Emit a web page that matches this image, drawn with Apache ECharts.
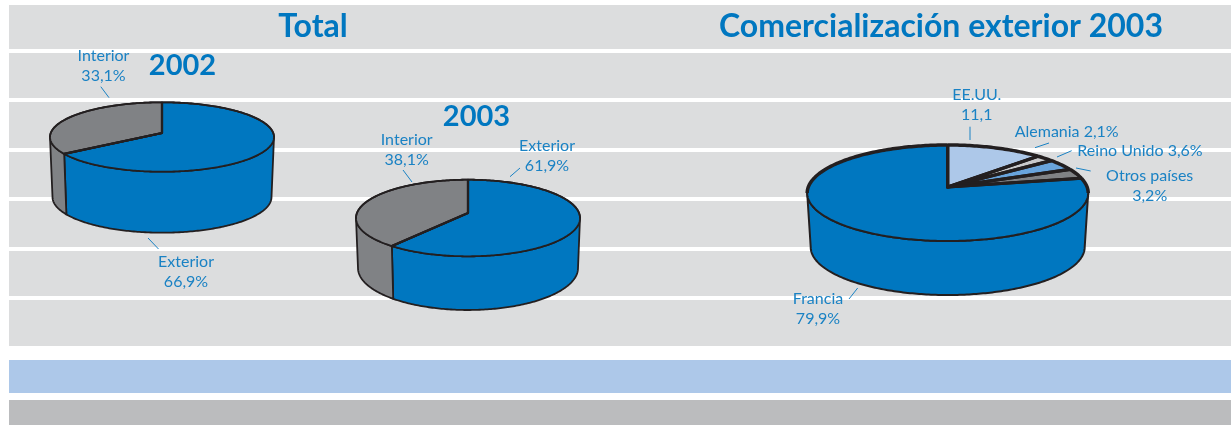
<!DOCTYPE html>
<html>
<head>
    <meta charset="utf-8">
    <title>Comercialización exterior 2003</title>
    <script src="https://cdn.jsdelivr.net/npm/echarts@6/dist/echarts.min.js"></script>
    <style>
        html, body { margin: 0; padding: 0; background: #fff; }
    </style>
</head>
<body>
    <div id="main" style="width: 1231px;height:425px;"></div>
    <script type="text/javascript">
        // values, in clockwise order from 12 o'clock
        var values2002 = [66.9, 33.1];
        var labels2002 = ['Exterior\n66,9%', 'Interior\n33,1%'];
        var values2003 = [61.9, 38.1];
        var labels2003 = ['Exterior\n61,9%', 'Interior\n38,1%'];
        var valuesExport = [11.1, 2.1, 3.6, 3.2, 79.9];
        var labelsExport = ['EE.UU.\n11,1', 'Alemania 2,1%', 'Reino Unido 3,6%', 'Otros países\n3,2%', 'Francia\n79,9%'];

        var BLUE = '#0077c0', GREY = '#808285', INK = '#231f20', TEXT = '#1a82c4';

        var pies = [{
            values: values2002, labels: labels2002,
            colors: [BLUE, GREY],
            cx: 162, cy: 137, rx: 112, ry: 34.7, apexDy: -4,
            bottomRx: 109.5, bottomCy: 197, bottomRy: 35.7,
            rimWidth: 1.8, upperWidth: 1.8, radialWidth: 2.2,
            labelPos: [[186, 272], [103.5, 66]],
            leaders: [[148, 238, 158.5, 249], [100.8, 86.7, 109, 97.7]]
        }, {
            values: values2003, labels: labels2003,
            colors: [BLUE, GREY],
            cx: 468, cy: 218, rx: 112, ry: 38.3, apexDy: -5,
            bottomRx: 110, bottomCy: 268, bottomRy: 42,
            rimWidth: 1.8, upperWidth: 1.8, radialWidth: 2.2,
            labelPos: [[547, 156], [406.7, 150]],
            leaders: [[520, 168, 510, 176.7], [403, 170, 412, 182]]
        }, {
            values: valuesExport, labels: labelsExport,
            colors: ['#adc8e9', '#c9cacc', '#69a4dc', GREY, BLUE],
            cx: 947.7, cy: 193, rx: 140.5, ry: 48, apexDy: -6,
            bottomRx: 137, bottomCy: 247, bottomRy: 48,
            rimWidth: 2, upperWidth: 3.5, radialWidth: 3.2,
            labelPos: [[976.7, 105], [1066.7, 132], [1140, 151.3], [1149.7, 186], [818, 309]],
            leaders: [[970, 126.7, 970, 140], [1049, 143, 1035, 147.7], [1071.7, 150.7, 1057, 157],
                [1076, 168, 1090.7, 171], [849, 299, 857.7, 288]]
        }];

        var bandTops = [5, 53, 102, 152, 201, 251, 300];
        var bandBottoms = [49, 98, 148, 197, 247, 296, 346];

        function rimPoint(cx, cy, rx, ry, deg) {
            var a = deg * Math.PI / 180;
            return [cx + rx * Math.sin(a), cy - ry * Math.cos(a)];
        }

        function arcPoints(cx, cy, rx, ry, from, to) {
            var pts = [], steps = Math.max(1, Math.ceil(Math.abs(to - from)));
            for (var i = 0; i <= steps; i++) {
                pts.push(rimPoint(cx, cy, rx, ry, from + (to - from) * i / steps));
            }
            return pts;
        }

        // one custom series per pie, angles come from the data values
        function pieSeries(pie) {
            var total = pie.values.reduce(function (s, v) { return s + v; }, 0);
            return {
                type: 'custom',
                coordinateSystem: 'none',
                silent: true,
                data: pie.values,
                renderItem: function (params, api) {
                    var i = params.dataIndex, before = 0;
                    for (var k = 0; k < i; k++) before += pie.values[k];
                    var a0 = before / total * 360;
                    var a1 = a0 + api.value(0) / total * 360;
                    var fill = pie.colors[i];
                    var apex = [pie.cx, pie.cy + pie.apexDy];
                    var kids = [];

                    // side wall, only the part on the front half of the rim
                    var s0 = Math.max(a0, 90), s1 = Math.min(a1, 270);
                    if (s1 > s0) {
                        var wall = arcPoints(pie.cx, pie.cy, pie.rx, pie.ry, s0, s1)
                            .concat(arcPoints(pie.cx, pie.bottomCy, pie.bottomRx, pie.bottomRy, s1, s0));
                        kids.push({
                            type: 'polygon', z2: 1,
                            shape: { points: wall },
                            style: { fill: fill, stroke: INK, lineWidth: pie.rimWidth, lineJoin: 'round' }
                        });
                    }

                    // top face
                    var rim = arcPoints(pie.cx, pie.cy, pie.rx, pie.ry, a0, a1);
                    kids.push({
                        type: 'polygon', z2: 2,
                        shape: { points: [apex].concat(rim) },
                        style: { fill: fill, stroke: INK, lineWidth: pie.rimWidth, lineJoin: 'round' }
                    });
                    // heavier back rim
                    if (a0 < 90) {
                        kids.push({
                            type: 'polyline', z2: 3,
                            shape: { points: arcPoints(pie.cx, pie.cy, pie.rx, pie.ry, a0, Math.min(a1, 90)) },
                            style: { fill: null, stroke: INK, lineWidth: pie.upperWidth }
                        });
                    }
                    if (a1 > 270) {
                        kids.push({
                            type: 'polyline', z2: 3,
                            shape: { points: arcPoints(pie.cx, pie.cy, pie.rx, pie.ry, Math.max(a0, 270), a1) },
                            style: { fill: null, stroke: INK, lineWidth: pie.upperWidth }
                        });
                    }
                    kids.push({
                        type: 'polyline', z2: 4,
                        shape: { points: [rim[0], apex, rim[rim.length - 1]] },
                        style: { fill: null, stroke: INK, lineWidth: pie.radialWidth, lineJoin: 'round' }
                    });

                    // label and its little leader
                    var l = pie.leaders[i];
                    kids.push({
                        type: 'line', z2: 5,
                        shape: { x1: l[0], y1: l[1], x2: l[2], y2: l[3] },
                        style: { stroke: TEXT, lineWidth: 1 }
                    });
                    kids.push({
                        type: 'text', z2: 5,
                        style: {
                            x: pie.labelPos[i][0], y: pie.labelPos[i][1],
                            text: pie.labels[i], fill: TEXT,
                            fontFamily: 'Lato', fontSize: 16, lineHeight: 20,
                            align: 'center', verticalAlign: 'middle'
                        }
                    });
                    return { type: 'group', children: kids };
                }
            };
        }

        function heading(text, x, y, size) {
            return {
                type: 'text', z: 1, x: x, y: y,
                style: {
                    text: text, fill: BLUE, fontFamily: 'Lato', fontWeight: 'bold', fontSize: size,
                    align: 'center', verticalAlign: 'middle'
                }
            };
        }

        function band(top, bottom, color) {
            return {
                type: 'rect', z: 0,
                shape: { x: 9, y: top, width: 1222, height: bottom - top },
                style: { fill: color }
            };
        }

        var elements = bandTops.map(function (t, i) { return band(t, bandBottoms[i], '#dcddde'); });
        elements.push(band(360, 393, '#adc8e9'), band(400, 425, '#bbbcbe'));
        elements.push(
            heading('Total', 313, 27, 32),
            heading('Comercialización exterior 2003', 941, 27, 32),
            heading('2002', 182.5, 66, 29),
            heading('2003', 476.5, 117, 29)
        );

        var myChart = echarts.init(document.getElementById('main'));
        myChart.setOption({
            animation: false,
            graphic: { elements: elements },
            series: pies.map(pieSeries)
        });
    </script>
</body>
</html>
